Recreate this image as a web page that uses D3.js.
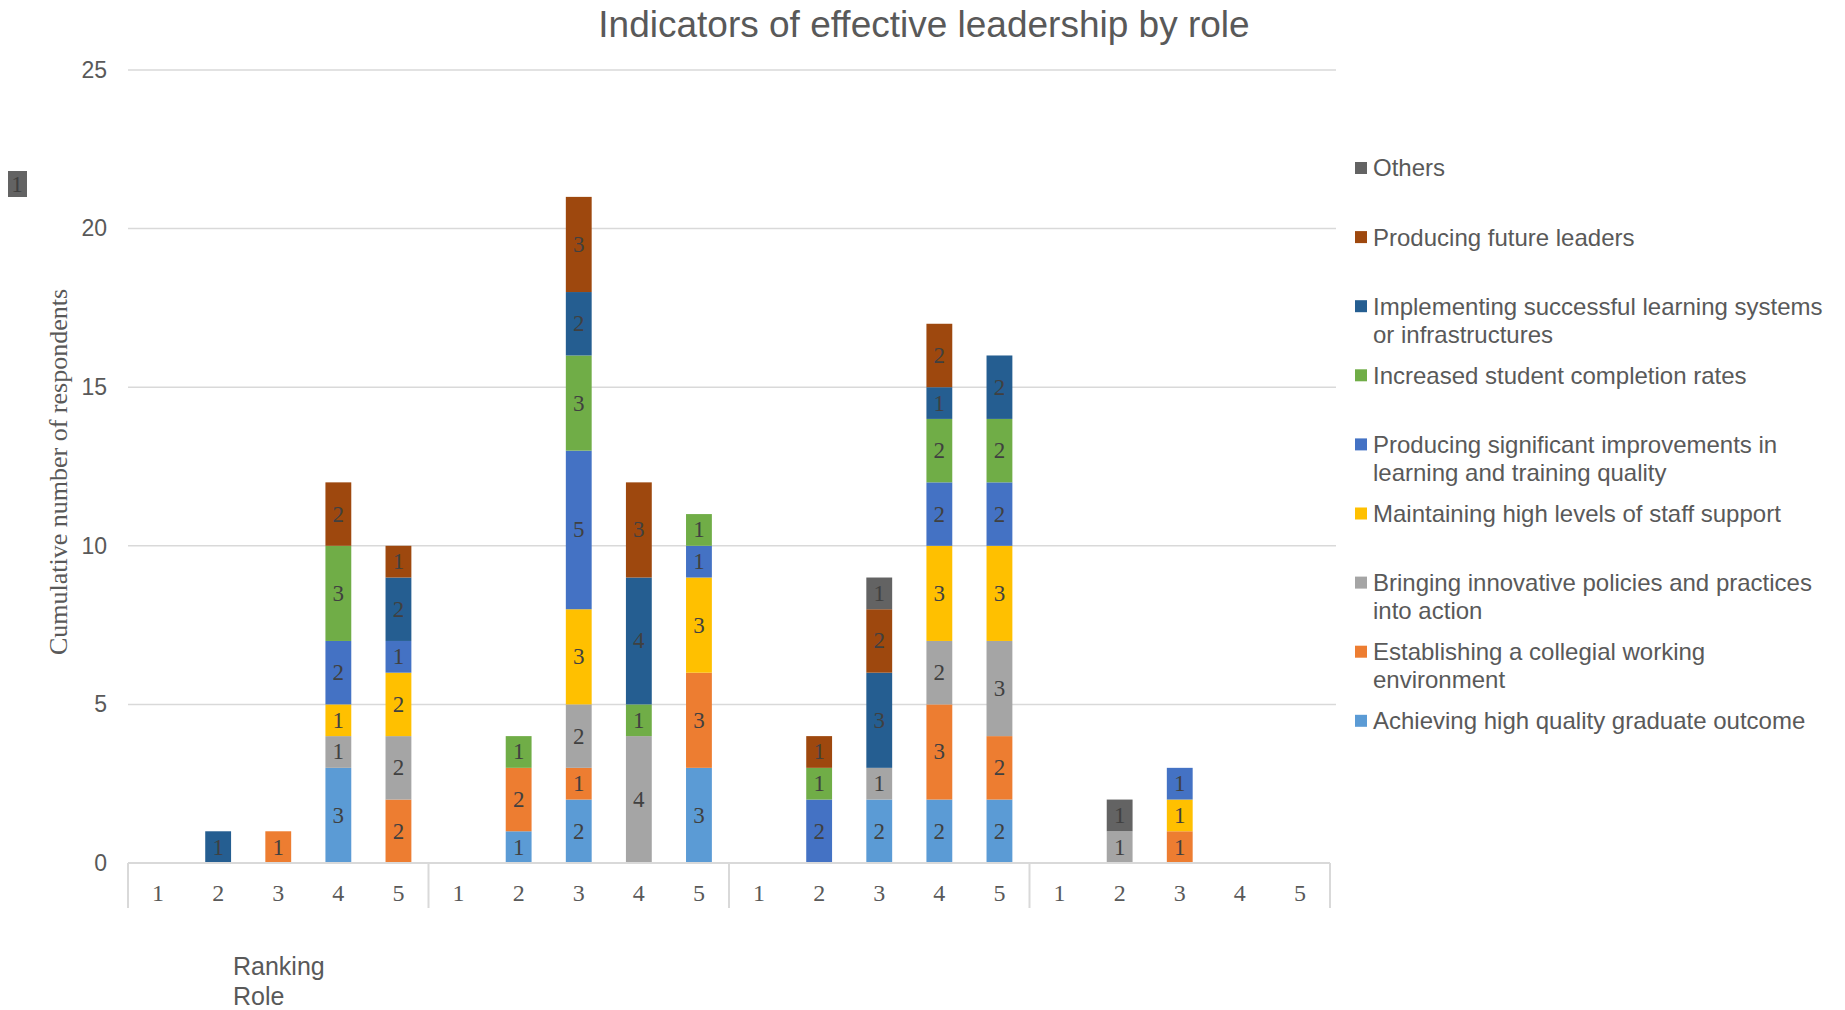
<!DOCTYPE html>
<html>
<head>
<meta charset="utf-8">
<script src="https://cdn.jsdelivr.net/npm/d3@7"></script>
<style>
  html, body { margin: 0; padding: 0; background: #ffffff; }
  svg { display: block; }
</style>
</head>
<body>
<svg id="chart" width="1845" height="1010"></svg>
<script>
// ---- data ----
const roles = ["Role 1", "Role 2", "Role 3", "Role 4"];
const rankings = ["1", "2", "3", "4", "5"];

const seriesNames = [
  "Achieving high quality graduate outcome",
  "Establishing a collegial working environment",
  "Bringing innovative policies and practices into action",
  "Maintaining high levels of staff support",
  "Producing significant improvements in learning and training quality",
  "Increased student completion rates",
  "Implementing successful learning systems or infrastructures",
  "Producing future leaders",
  "Others"
];
const seriesColors = ["#5B9BD5", "#ED7D31", "#A5A5A5", "#FFC000", "#4472C4",
                      "#70AD47", "#255E91", "#9E480E", "#636363"];

// respondents per role (4 roles x rankings 1-5), one list per indicator
const achieving    = [0,0,0,3,0,  0,1,2,0,3,  0,0,2,2,2,  0,0,0,0,0];
const establishing = [0,0,1,0,2,  0,2,1,0,3,  0,0,0,3,2,  0,0,1,0,0];
const bringing     = [0,0,0,1,2,  0,0,2,4,0,  0,0,1,2,3,  0,1,0,0,0];
const maintaining  = [0,0,0,1,2,  0,0,3,0,3,  0,0,0,3,3,  0,0,1,0,0];
const producingSig = [0,0,0,2,1,  0,0,5,0,1,  0,2,0,2,2,  0,0,1,0,0];
const increased    = [0,0,0,3,0,  0,1,3,1,1,  0,1,0,2,2,  0,0,0,0,0];
const implementing = [0,1,0,0,2,  0,0,2,4,0,  0,0,3,1,2,  0,0,0,0,0];
const futureLeaders= [0,0,0,2,1,  0,0,3,3,0,  0,1,2,2,0,  0,0,0,0,0];
const others       = [0,0,0,0,0,  0,0,0,0,0,  0,0,1,0,0,  0,1,0,0,0];

const seriesValues = [achieving, establishing, bringing, maintaining, producingSig,
                      increased, implementing, futureLeaders, others];
const yTicks = [0, 5, 10, 15, 20, 25];
const detachedLabel = "1";

// ---- layout ----
const plot = { left: 128, right: 1330, top: 70, bottom: 863, gridRight: 1336 };
const textColor = "#595959";
const labelColor = "#404040";
const gridColor = "#D9D9D9";
const serif = "'Liberation Serif', 'Times New Roman', serif";
const sans = "'Liberation Sans', Arial, sans-serif";

const svg = d3.select("#chart");

// rows for stacking
const rows = [];
roles.forEach((role, ri) => {
  rankings.forEach((rank, ki) => {
    const row = { role, rank };
    seriesNames.forEach((s, si) => { row[s] = seriesValues[si][ri * rankings.length + ki]; });
    rows.push(row);
  });
});
const stacked = d3.stack().keys(seriesNames)(rows);

// scales
const xRole = d3.scaleBand().domain(roles).range([plot.left, plot.right]).padding(0);
const xRank = d3.scaleBand().domain(rankings).range([0, xRole.bandwidth()])
  .paddingInner(0.57).paddingOuter(0.285);
const y = d3.scaleLinear().domain([0, 25]).range([plot.bottom, plot.top]);
const color = d3.scaleOrdinal().domain(seriesNames).range(seriesColors);

// title
svg.append("text")
  .attr("x", 924).attr("y", 37)
  .attr("text-anchor", "middle")
  .attr("font-family", sans).attr("font-size", 37)
  .attr("fill", textColor)
  .text("Indicators of effective leadership by role");

// gridlines
svg.append("g").selectAll("line")
  .data(yTicks.filter(t => t > 0))
  .join("line")
  .attr("x1", plot.left).attr("x2", plot.gridRight)
  .attr("y1", d => y(d)).attr("y2", d => y(d))
  .attr("stroke", gridColor).attr("stroke-width", 1.5);

// y tick labels
const yAxis = d3.axisLeft(y).tickValues(yTicks).tickSize(0).tickPadding(0);
const gy = svg.append("g").attr("transform", "translate(107,0)").call(yAxis);
gy.select(".domain").remove();
gy.selectAll("text")
  .attr("font-family", sans).attr("font-size", 23).attr("fill", textColor);

// y axis title
svg.append("text")
  .attr("transform", "translate(58,472) rotate(-90)")
  .attr("text-anchor", "middle")
  .attr("dominant-baseline", "central")
  .attr("font-family", serif).attr("font-size", 26)
  .attr("fill", textColor)
  .text("Cumulative number of respondents");

// bars
const barX = d => xRole(d.data.role) + xRank(d.data.rank);
const layers = svg.append("g").selectAll("g")
  .data(stacked)
  .join("g")
  .attr("fill", d => color(d.key));

layers.selectAll("rect")
  .data(d => d.filter(p => p[1] - p[0] > 0))
  .join("rect")
  .attr("x", barX)
  .attr("y", d => y(d[1]))
  .attr("width", xRank.bandwidth())
  .attr("height", d => y(d[0]) - y(d[1]));

// value labels inside segments
layers.selectAll("text")
  .data(d => d.filter(p => p[1] - p[0] > 0))
  .join("text")
  .attr("x", d => barX(d) + xRank.bandwidth() / 2)
  .attr("y", d => (y(d[0]) + y(d[1])) / 2)
  .attr("text-anchor", "middle")
  .attr("dominant-baseline", "central")
  .attr("font-family", serif).attr("font-size", 23)
  .attr("fill", labelColor)
  .text(d => d[1] - d[0]);

// category axis: baseline, group separators, ranking labels
const axisG = svg.append("g");
axisG.append("line")
  .attr("x1", plot.left).attr("x2", plot.right)
  .attr("y1", plot.bottom).attr("y2", plot.bottom)
  .attr("stroke", gridColor).attr("stroke-width", 2);
const sepX = roles.map(r => xRole(r)).concat([plot.right]);
axisG.selectAll("line.sep")
  .data(sepX)
  .join("line").attr("class", "sep")
  .attr("x1", d => d).attr("x2", d => d)
  .attr("y1", plot.bottom).attr("y2", plot.bottom + 45)
  .attr("stroke", gridColor).attr("stroke-width", 2);
axisG.selectAll("text")
  .data(rows)
  .join("text")
  .attr("x", d => xRole(d.role) + xRank(d.rank) + xRank.bandwidth() / 2)
  .attr("y", 893)
  .attr("text-anchor", "middle")
  .attr("dominant-baseline", "central")
  .attr("font-family", serif).attr("font-size", 24)
  .attr("fill", textColor)
  .text(d => d.rank);

// field names under the axis
svg.append("text")
  .attr("x", 233).attr("y", 975)
  .attr("font-family", sans).attr("font-size", 25).attr("fill", textColor)
  .text("Ranking");
svg.append("text")
  .attr("x", 233).attr("y", 1005)
  .attr("font-family", sans).attr("font-size", 25).attr("fill", textColor)
  .text("Role");

// detached "Others" data label near the top left
const detached = svg.append("g");
detached.append("rect")
  .attr("x", 8).attr("y", 171).attr("width", 19).attr("height", 26)
  .attr("fill", color("Others"));
detached.append("text")
  .attr("x", 17).attr("y", 184)
  .attr("text-anchor", "middle").attr("dominant-baseline", "central")
  .attr("font-family", serif).attr("font-size", 23).attr("fill", labelColor)
  .text(detachedLabel);

// legend (top entry = last series)
const legendOrder = seriesNames.slice().reverse();
const legend = svg.append("g");
const legendX = 1355, legendTop = 168, legendStep = 69.1, legendWrap = 460, lineH = 28;
legendOrder.forEach((name, i) => {
  const cy = legendTop + i * legendStep;
  legend.append("rect")
    .attr("x", legendX).attr("y", cy - 6)
    .attr("width", 12).attr("height", 12)
    .attr("fill", color(name));
  const t = legend.append("text")
    .attr("x", legendX + 18).attr("y", cy)
    .attr("font-family", sans).attr("font-size", 24).attr("fill", textColor);
  // wrap label to the legend width
  const words = name.split(" ");
  let line = [];
  let lineNo = 0;
  let tspan = t.append("tspan").attr("x", legendX + 18).attr("y", cy).attr("dy", "0.35em");
  words.forEach(w => {
    line.push(w);
    tspan.text(line.join(" "));
    if (tspan.node().getComputedTextLength() > legendWrap && line.length > 1) {
      line.pop();
      tspan.text(line.join(" "));
      line = [w];
      lineNo += 1;
      tspan = t.append("tspan").attr("x", legendX + 18).attr("y", cy + lineNo * lineH)
        .attr("dy", "0.35em").text(w);
    }
  });
});
</script>
</body>
</html>
